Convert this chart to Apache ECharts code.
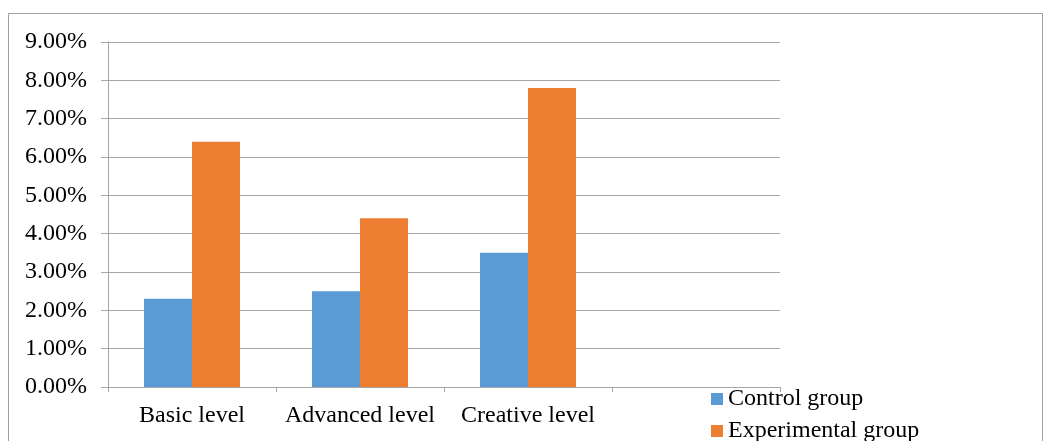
<!DOCTYPE html>
<html><head><meta charset="utf-8">
<script src="https://cdn.jsdelivr.net/npm/echarts@6/dist/echarts.min.js"></script>
<style>html,body{margin:0;padding:0;background:#fff}#c{width:1044px;height:441px}</style>
</head><body><div id="c"></div>
<script>
const categories = ['Basic level', 'Advanced level', 'Creative level', ''];
const controlGroup = [2.3, 2.5, 3.5, null];
const experimentalGroup = [6.4, 4.4, 7.8, null];
const seriesNames = ['Control group', 'Experimental group'];

const font = 'Liberation Serif, Times New Roman, serif';
const gray = '#A6A6A6';
const fs = 24;
const chart = echarts.init(document.getElementById('c'));
const legendBase = {
  orient: 'vertical', left: 711, padding: 0,
  itemWidth: 12, itemHeight: 12, itemGap: 5, icon: 'rect',
  textStyle: { fontFamily: font, fontSize: fs, color: '#000' }
};
chart.setOption({
  animation: false,
  backgroundColor: '#fff',
  graphic: [{
    type: 'rect', shape: { x: 8.5, y: 13.5, width: 1034, height: 440 },
    style: { fill: 'none', stroke: '#A0A0A0', lineWidth: 1 }, silent: true
  }],
  grid: { left: 108, top: 42, right: 264, bottom: 54, containLabel: false },
  legend: [
    Object.assign({}, legendBase, { top: 387, data: [seriesNames[0]] }),
    Object.assign({}, legendBase, { top: 419, data: [seriesNames[1]] })
  ],
  xAxis: {
    type: 'category', data: categories,
    axisLine: { lineStyle: { color: gray } },
    axisTick: { show: true, length: 5, lineStyle: { color: gray } },
    axisLabel: { fontFamily: font, fontSize: fs, color: '#000', margin: 17, interval: 0 }
  },
  yAxis: {
    type: 'value', min: 0, max: 9, interval: 1,
    axisLine: { show: true, lineStyle: { color: gray } },
    axisTick: { show: true, length: 7, lineStyle: { color: gray } },
    splitLine: { lineStyle: { color: gray, width: 1 } },
    axisLabel: { fontFamily: font, fontSize: fs, color: '#000', margin: 21,
      formatter: v => v.toFixed(2) + '%' }
  },
  series: [
    { name: seriesNames[0], type: 'bar', data: controlGroup, barWidth: 48, barGap: '0%',
      itemStyle: { color: '#5B9BD5' } },
    { name: seriesNames[1], type: 'bar', data: experimentalGroup, barWidth: 48, barGap: '0%',
      itemStyle: { color: '#ED7D31' } }
  ]
});
</script></body></html>
